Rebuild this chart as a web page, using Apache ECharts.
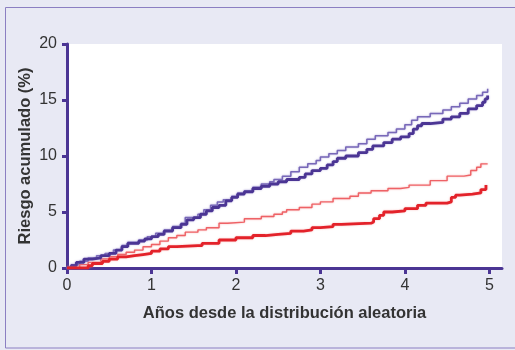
<!DOCTYPE html>
<html><head><meta charset="utf-8">
<script src="https://cdn.jsdelivr.net/npm/echarts@6/dist/echarts.min.js"></script>
<style>html,body{margin:0;padding:0;background:#e8e9f4;}#c{width:515px;height:350px;}</style>
</head><body><div id="c"></div>
<script>
var xTicks = [0, 1, 2, 3, 4, 5];
var yTicks = [0, 5, 10, 15, 20];
var xName = 'Años desde la distribución aleatoria';
var yName = 'Riesgo acumulado (%)';
var purpleThin = [[0,0],[0.05,0.3],[0.15,0.6],[0.25,0.9],[0.35,1.1],[0.45,1.3],[0.55,1.6],[0.65,2.0],[0.72,2.3],[0.85,2.5],[0.95,2.8],[1.05,3.1],[1.15,3.4],[1.25,3.7],[1.35,4.0],[1.4,4.5],[1.55,4.8],[1.62,5.2],[1.7,5.6],[1.78,5.9],[1.85,6.1],[1.95,6.4],[2.02,6.7],[2.1,6.9],[2.2,7.2],[2.3,7.5],[2.4,7.7],[2.45,7.9],[2.55,8.2],[2.65,8.6],[2.75,9.0],[2.85,9.3],[2.95,9.6],[3.0,9.9],[3.1,10.2],[3.2,10.5],[3.3,10.8],[3.45,11.1],[3.55,11.5],[3.65,11.8],[3.8,12.1],[3.9,12.4],[4.0,12.8],[4.08,13.2],[4.15,13.5],[4.3,13.8],[4.45,14.1],[4.55,14.4],[4.65,14.7],[4.75,15.1],[4.85,15.4],[4.92,15.7],[4.98,16.0]];
var purpleThick = [[0,0],[0.05,0.2],[0.11,0.5],[0.2,0.8],[0.3,0.9],[0.4,1.1],[0.5,1.3],[0.58,1.6],[0.65,1.9],[0.72,2.2],[0.85,2.4],[0.92,2.6],[1.0,2.8],[1.08,3.0],[1.15,3.3],[1.25,3.6],[1.35,3.9],[1.42,4.3],[1.5,4.5],[1.58,4.8],[1.65,5.1],[1.72,5.4],[1.8,5.6],[1.88,6.0],[1.95,6.3],[2.02,6.6],[2.1,6.8],[2.2,7.1],[2.3,7.3],[2.4,7.5],[2.5,7.7],[2.6,7.9],[2.75,8.1],[2.82,8.4],[2.9,8.7],[3.0,8.9],[3.08,9.2],[3.15,9.5],[3.2,9.8],[3.3,10.0],[3.45,10.3],[3.55,10.6],[3.62,10.9],[3.75,11.2],[3.85,11.5],[3.95,11.7],[4.05,12.0],[4.1,12.4],[4.15,12.7],[4.2,12.9],[4.3,13.0],[4.45,13.3],[4.55,13.5],[4.65,13.8],[4.75,14.2],[4.85,14.5],[4.92,14.8],[4.95,15.1],[4.98,15.4]];
var redThin = [[0,0],[0.15,0.3],[0.25,0.5],[0.4,0.8],[0.5,1.0],[0.6,1.2],[0.7,1.4],[0.8,1.6],[0.9,1.9],[1.0,2.1],[1.1,2.4],[1.2,2.7],[1.3,2.9],[1.4,3.2],[1.55,3.4],[1.65,3.6],[1.8,4.0],[1.9,4.1],[2.1,4.4],[2.3,4.6],[2.45,4.8],[2.55,5.0],[2.6,5.2],[2.75,5.4],[2.9,5.7],[3.0,5.9],[3.15,6.2],[3.35,6.4],[3.45,6.7],[3.6,6.9],[3.8,7.1],[3.95,7.2],[4.05,7.4],[4.3,7.8],[4.5,8.2],[4.7,8.3],[4.78,8.7],[4.85,9.0],[4.9,9.3],[4.98,9.3]];
var redThick = [[0,0],[0.25,0.2],[0.3,0.4],[0.42,0.6],[0.5,0.8],[0.6,1.0],[0.7,1.1],[0.8,1.2],[0.9,1.3],[1.0,1.5],[1.1,1.7],[1.2,1.9],[1.3,2.0],[1.55,2.0],[1.6,2.2],[1.8,2.5],[2.0,2.7],[2.2,2.9],[2.35,3.0],[2.5,3.1],[2.65,3.3],[2.8,3.4],[2.9,3.6],[3.0,3.7],[3.15,3.9],[3.25,4.0],[3.6,4.1],[3.63,4.4],[3.7,4.7],[3.75,5.0],[3.85,5.1],[4.0,5.3],[4.15,5.6],[4.25,5.8],[4.5,5.9],[4.55,6.3],[4.6,6.5],[4.65,6.6],[4.8,6.7],[4.9,7.0],[4.96,7.4]];

var AX = '#4b3594';
var font = '"Liberation Sans", Arial, sans-serif';
function line(data, color, w, z, halo) {
  return { type: 'line', data: data, step: 'end', showSymbol: false, symbol: 'none', z: z,
    lineStyle: { color: color, width: w, shadowColor: halo, shadowBlur: 2 }, animation: false };
}
var chart = echarts.init(document.getElementById('c'));
chart.setOption({
  animation: false,
  backgroundColor: '#e8e9f4',
  graphic: [{ type: 'rect', shape: { x: 5.5, y: 7.5, width: 520, height: 340.5 }, style: { fill: 'none', stroke: '#8b7fc2', lineWidth: 1 }, silent: true }],
  grid: { left: 67, right: 13, top: 44, bottom: 82, show: true, backgroundColor: '#ffffff', borderWidth: 0 },
  xAxis: {
    type: 'value', min: 0, max: 5.15, interval: 1,
    name: xName, nameLocation: 'middle', nameGap: 37, nameMoveOverlap: false,
    nameTextStyle: { fontFamily: font, fontSize: 16.5, fontWeight: 'bold', color: '#333' },
    axisLine: { show: true, lineStyle: { color: AX, width: 3 } },
    axisTick: { show: true, length: 6, lineStyle: { color: AX, width: 3 }, customValues: xTicks },
    axisLabel: { fontFamily: font, fontSize: 16, color: '#333', margin: 10, customValues: xTicks },
    splitLine: { show: false }
  },
  yAxis: {
    type: 'value', min: 0, max: 20, interval: 5,
    name: yName, nameLocation: 'middle', nameGap: 33, nameMoveOverlap: false,
    nameTextStyle: { fontFamily: font, fontSize: 16.5, fontWeight: 'bold', color: '#333' },
    axisLine: { show: true, lineStyle: { color: AX, width: 3 } },
    axisTick: { show: true, length: 5, lineStyle: { color: AX, width: 3 }, customValues: yTicks },
    axisLabel: { fontFamily: font, fontSize: 16, color: '#333', margin: 10, padding: [4, 0, 0, 0], customValues: yTicks },
    splitLine: { show: false }
  },
  series: [
    line(purpleThin, '#7868b8', 1.5, 3, 'rgba(160,150,210,0.8)'),
    line(purpleThick, '#4b3594', 2.8, 4, 'rgba(140,125,200,0.6)'),
    line(redThin, '#ee6266', 1.4, 3, 'rgba(245,160,160,0.8)'),
    line(redThick, '#e3222a', 2.8, 4, 'rgba(240,140,140,0.6)')
  ]
});
</script></body></html>
